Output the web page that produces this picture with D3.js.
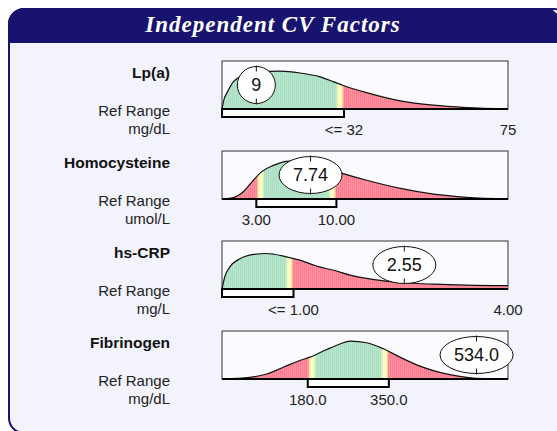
<!DOCTYPE html>
<html>
<head>
<meta charset="utf-8">
<script src="https://cdn.jsdelivr.net/npm/d3@7"></script>
<style>
  body { margin: 0; background: #ffffff; }
  svg { display: block; font-family: "Liberation Sans", Arial, sans-serif; }
</style>
</head>
<body>
<svg id="chart" width="557" height="431"></svg>
<script>
// ---- data ----
const factors = ["Lp(a)", "Homocysteine", "hs-CRP", "Fibrinogen"];
const units = ["mg/dL", "umol/L", "mg/L", "mg/dL"];
const values = [9, 7.74, 2.55, 534.0];
const valueLabels = ["9", "7.74", "2.55", "534.0"];
const domains = [[0, 75], [0, 25], [0, 4], [0, 600]];
const refLow = [null, 3, null, 180];
const refHigh = [32, 10, 1, 350];
const tickValues = [[32, 75], [3, 10], [1, 4], [180, 350]];
const tickLabels = [["<= 32", "75"], ["3.00", "10.00"], ["<= 1.00", "4.00"], ["180.0", "350.0"]];

// density curve samples (value, relative height 0..1)
const curveX = [
  [0, 0.6, 1.2, 3.0, 5.6, 9.1, 15.2, 20.5, 25.7, 29.2, 31.8, 37.9, 46.7, 55.4, 64.2, 75],
  [0, 1.0, 1.86, 2.74, 3.47, 4.49, 5.9, 7.4, 8.8, 10.6, 12.65, 15.6, 18.5, 21.4, 25],
  [0, 0.04, 0.11, 0.25, 0.44, 0.62, 0.90, 1.09, 1.32, 1.56, 1.79, 2.02, 2.26, 2.54, 2.96, 3.42, 4],
  [0, 58.7, 93.7, 128.7, 163.6, 184.6, 219.6, 247.6, 268.5, 303.6, 338.5, 373.4, 408.4, 443.3, 478.3, 513.3, 548.3, 600]
];
const curveY = [
  [0, 0.22, 0.32, 0.57, 0.70, 0.77, 0.79, 0.75, 0.67, 0.57, 0.49, 0.34, 0.17, 0.08, 0.03, 0],
  [0, 0.03, 0.15, 0.39, 0.57, 0.70, 0.79, 0.76, 0.67, 0.53, 0.39, 0.22, 0.10, 0.035, 0],
  [0, 0.26, 0.46, 0.63, 0.72, 0.74, 0.67, 0.60, 0.48, 0.39, 0.29, 0.22, 0.17, 0.13, 0.10, 0.08, 0.07],
  [0, 0.035, 0.105, 0.245, 0.385, 0.455, 0.615, 0.73, 0.79, 0.755, 0.63, 0.455, 0.295, 0.175, 0.09, 0.035, 0.007, 0]
];

const navy = "#17136e";
const green = "#a8dfc0", red = "#ff7a8c", yellow = "#fdfdb6";

const svg = d3.select("#chart");

/* ------- FRAME ------- */
svg.append("rect")
  .attr("x", 9).attr("y", 9)
  .attr("width", 560).attr("height", 424)
  .attr("rx", 15)
  .attr("fill", "#f3f3fc")
  .attr("stroke", navy)
  .attr("stroke-width", 2);

svg.append("path")
  .attr("d", "M8,43 V24 A16,16 0 0 1 24,8 H545 A15,15 0 0 1 560,23 V43 Z")
  .attr("fill", navy);

svg.append("text")
  .attr("x", 273).attr("y", 32)
  .attr("text-anchor", "middle")
  .attr("fill", "#ffffff")
  .style("font-family", "'Liberation Serif', 'Times New Roman', serif")
  .style("font-weight", "bold")
  .style("font-style", "italic")
  .style("font-size", "23px")
  .style("letter-spacing", "1px")
  .text("Independent CV Factors");

/* ------- PANELS ------- */
const left = 222, right = 508, boxH = 48;
const bandColor = d3.scaleLinear()
  .domain([0, 2.5, 5.5, 8.5])
  .range([red, yellow, yellow, green])
  .clamp(true);

factors.forEach((name, i) => {
  const top = 61 + i * 90;
  const x = d3.scaleLinear().domain(domains[i]).range([left, right]);
  const y = d3.scaleLinear().domain([0, 1]).range([top + boxH, top]);
  const g = svg.append("g");

  // labels on the left
  g.append("text")
    .attr("x", 170).attr("y", top + 17)
    .attr("text-anchor", "end")
    .style("font-weight", "bold").style("font-size", "15.5px")
    .attr("fill", "#111")
    .text(name);
  g.append("text")
    .attr("x", 170).attr("y", top + 55)
    .attr("text-anchor", "end")
    .style("font-size", "15px").attr("fill", "#222")
    .text("Ref Range");
  g.append("text")
    .attr("x", 170).attr("y", top + 73)
    .attr("text-anchor", "end")
    .style("font-size", "15px").attr("fill", "#222")
    .text(units[i]);

  // plot box
  g.append("rect")
    .attr("x", left).attr("y", top)
    .attr("width", right - left).attr("height", boxH)
    .attr("fill", "#fbfbff")
    .attr("stroke", "#333").attr("stroke-width", 1);

  // density fill made of 1px stripes clipped by the area
  const pts = curveX[i].map((v, k) => [v, curveY[i][k]]);
  const area = d3.area()
    .x(d => x(d[0])).y0(y(0)).y1(d => y(d[1]))
    .curve(d3.curveMonotoneX);
  const line = d3.line()
    .x(d => x(d[0])).y(d => y(d[1]))
    .curve(d3.curveMonotoneX);

  const clipId = "clip" + i;
  svg.append("clipPath").attr("id", clipId)
    .append("path").attr("d", area(pts));

  const cols = d3.range(left, right);
  const lo = refLow[i], hi = refHigh[i];
  g.append("g").attr("clip-path", `url(#${clipId})`)
    .selectAll("rect")
    .data(cols)
    .join("rect")
    .attr("x", d => d).attr("y", top)
    .attr("width", 1).attr("height", boxH)
    .attr("fill", d => {
      const px = d + 0.5;
      let dist = x(hi) - px;
      if (lo != null) dist = Math.min(dist, px - x(lo));
      const c = d3.color(bandColor(dist));
      return d % 2 ? d3.interpolateRgb(c, "#ffffff")(0.18) : c.toString();
    });

  g.append("path")
    .attr("d", line(pts))
    .attr("fill", "none")
    .attr("stroke", "#111")
    .attr("stroke-width", 1.2);

  // bottom edge
  g.append("line")
    .attr("x1", left).attr("x2", right)
    .attr("y1", top + boxH).attr("y2", top + boxH)
    .attr("stroke", "#000").attr("stroke-width", 2);

  // reference range bar
  const x0 = lo == null ? domains[i][0] : lo;
  g.append("rect")
    .attr("x", x(x0)).attr("y", top + boxH)
    .attr("width", x(hi) - x(x0)).attr("height", 8)
    .attr("fill", "#ffffff")
    .attr("stroke", "#000").attr("stroke-width", 2);

  // tick labels
  g.selectAll("text.tick")
    .data(tickValues[i])
    .join("text")
    .attr("class", "tick")
    .attr("x", d => x(d)).attr("y", top + boxH + 26)
    .attr("text-anchor", "middle")
    .style("font-size", "15px").attr("fill", "#222")
    .text((d, k) => tickLabels[i][k]);

  // value marker
  const m = g.append("g")
    .attr("transform", `translate(${x(values[i])},${top + boxH / 2})`);
  const ell = m.append("ellipse").attr("fill", "#ffffff").attr("stroke", "#111").attr("stroke-width", 1);
  const t = m.append("text")
    .attr("text-anchor", "middle").attr("dy", "0.36em")
    .style("font-size", "18px").attr("fill", "#111")
    .text(valueLabels[i]);
  const rx = t.node().getComputedTextLength() / 2 + 14, ry = 18.5;
  ell.attr("rx", rx).attr("ry", ry);
  m.selectAll("line.mk")
    .data([-1, 1])
    .join("line")
    .attr("class", "mk")
    .attr("x1", 0).attr("x2", 0)
    .attr("y1", d => d * (ry + 1)).attr("y2", d => d * (ry - 5))
    .attr("stroke", "#111").attr("stroke-width", 1);
});
</script>
</body>
</html>
